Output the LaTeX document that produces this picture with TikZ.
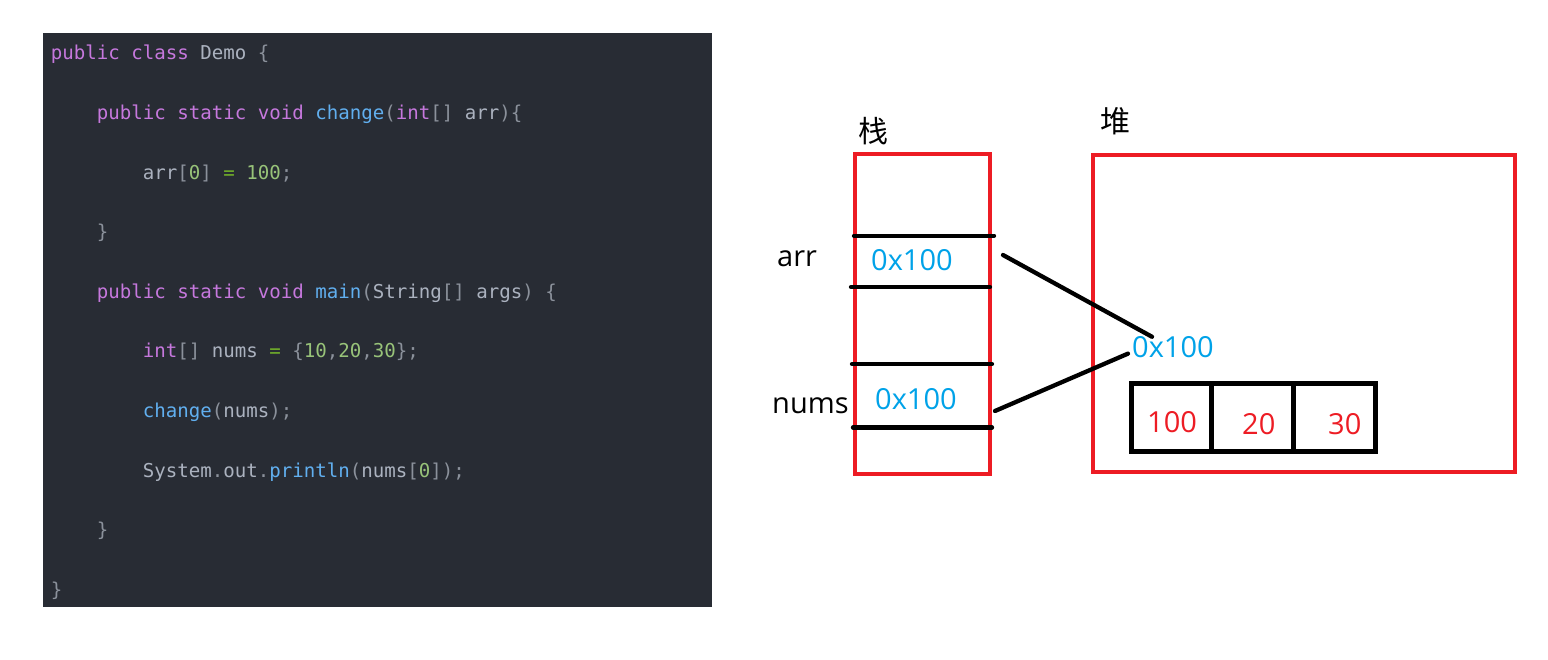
\documentclass[tikz,border=0pt]{standalone}
\usepackage{fontspec}
\usepackage{xcolor}
\usepackage{tikz}
\usetikzlibrary{positioning}
\newfontfamily\codefont{DejaVu Sans Mono}
\newfontfamily\labelfont{Open Sans}
\newfontfamily\cjkfont{Noto Sans CJK SC}
\definecolor{codebg}{HTML}{282C34}
\definecolor{codetxt}{HTML}{ABB2BF}
\definecolor{codekw}{HTML}{C678DD}
\definecolor{codefn}{HTML}{61AFEF}
\definecolor{codenum}{HTML}{98C379}
\definecolor{codeop}{HTML}{72B02A}
\definecolor{codepun}{HTML}{8B919B}
\definecolor{memred}{HTML}{ED1C24}
\definecolor{addrblue}{HTML}{00A2E8}
\newcommand\ckw[1]{\textcolor{codekw}{#1}}
\newcommand\cfn[1]{\textcolor{codefn}{#1}}
\newcommand\cnum[1]{\textcolor{codenum}{#1}}
\newcommand\cop[1]{\textcolor{codeop}{#1}}
\newcommand\cpun[1]{\textcolor{codepun}{#1}}
\tikzset{
codeline/.style={
  anchor=base west,
  inner sep=0pt,
  text=codetxt,
  font=\codefont\fontsize{19.1}{22}\selectfont
  },
memlabel/.style={
  anchor=base west,
  inner sep=0pt,
  font=\labelfont\fontsize{29}{34}\selectfont
  },
areatitle/.style={
  inner sep=0pt,
  font=\cjkfont\fontsize{30}{35}\selectfont
  },
area/.style={
  draw=memred,
  line width=4pt,
  inner sep=0pt
  },
cell/.style={
  draw,
  line width=4.7pt,
  inner sep=0pt,
  outer sep=0pt,
  minimum height=68pt
  },
slot/.style={
  line width=4.3pt,
  line cap=round
  },
ref/.style={
  line width=4.3pt,
  line cap=round
  }
}
\begin{document}
\begin{tikzpicture}[x=1pt,y=-1pt]
\useasboundingbox (0,0) rectangle (1548,660);
% the code
\node[fill=codebg,inner sep=0pt,minimum width=669pt,minimum height=574pt]
  at (377.35,320) (code) {};
\node[codeline] at (50.7,60) (l1) {\ckw{public class} Demo \cpun{\{}};
\node[codeline] at (96.7,119.6) (l2)
  {\ckw{public static void} \cfn{change}\cpun{(}\ckw{int}\cpun{[]} arr\cpun{)\{}};
\node[codeline] at (142.7,179.2) (l3)
  {arr\cpun{[}\cnum{0}\cpun{]} \cop{=} \cnum{100}\cpun{;}};
\node[codeline] at (96.7,238.8) (l4) {\cpun{\}}};
\node[codeline] at (96.7,298.4) (l5)
  {\ckw{public static void} \cfn{main}\cpun{(}String\cpun{[]} args\cpun{)} \cpun{\{}};
\node[codeline] at (142.7,358) (l6)
  {\ckw{int}\cpun{[]} nums \cop{=} \cpun{\{}\cnum{10}\cpun{,}\cnum{20}\cpun{,}\cnum{30}\cpun{\};}};
\node[codeline] at (142.7,417.6) (l7) {\cfn{change}\cpun{(}nums\cpun{);}};
\node[codeline] at (142.7,477.2) (l8)
  {System\cpun{.}out\cpun{.}\cfn{println}\cpun{(}nums\cpun{[}\cnum{0}\cpun{]);}};
\node[codeline] at (96.7,536.8) (l9) {\cpun{\}}};
\node[codeline] at (50.7,596.4) (l10) {\cpun{\}}};

% the stack
\node[areatitle] at (873,131) (stacktitle) {栈};
\node[area,minimum width=134.5pt,minimum height=320pt] at (922.25,314) (stack) {};
\draw[slot] (854,235.7) -- (994,235.7);
\draw[slot] (851,287) -- (990,287);
\draw[slot] (852,364) -- (992,364);
\draw[slot] (853,427.5) -- (992,427.5);
\node[memlabel] at (777,267) (arrname) {arr};
\node[memlabel] at (772,413) (numsname) {nums};
\node[memlabel,text=addrblue] at (871,271) (arrval) {0x100};
\node[memlabel,text=addrblue] at (875,409) (numsval) {0x100};

% the heap
\node[areatitle] at (1115,121) (heaptitle) {堆};
\node[area,minimum width=422pt,minimum height=317pt] at (1304,313.5) (heap) {};
\node[memlabel,text=addrblue] at (1132,358) (heapaddr) {0x100};
\node[cell,minimum width=80pt] at (1171.5,417.5) (c1) {};
\node[cell,minimum width=82pt,right=0pt of c1] (c2) {};
\node[cell,minimum width=82pt,right=0pt of c2] (c3) {};
\node[memlabel,text=memred] at (1147,432) (v1) {100};
\node[memlabel,text=memred] at (1242,434) (v2) {20};
\node[memlabel,text=memred] at (1328,434) (v3) {30};

%the references
\path
  (1003,255) coordinate (arrref)
  (995,411) coordinate (numsref);
\draw[ref] (arrref) -- ([xshift=20pt]heapaddr.north west);
\draw[ref] (numsref) -- ([xshift=-4pt,yshift=-6pt]heapaddr.west);
\end{tikzpicture}
\end{document}
